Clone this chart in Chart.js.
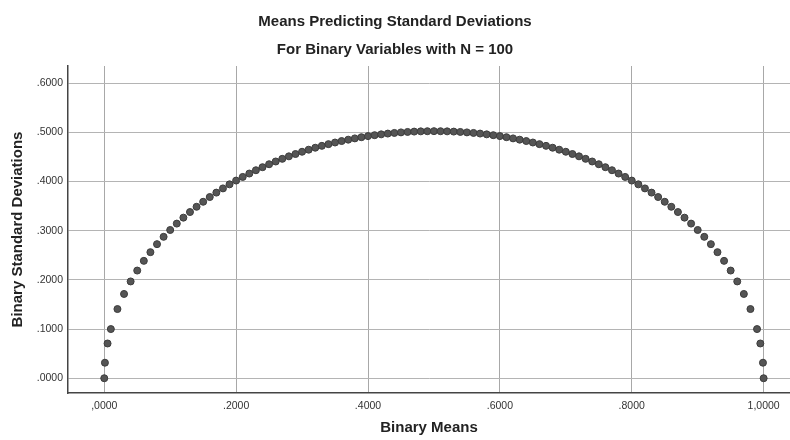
<!DOCTYPE html>
<html>
<head>
<meta charset="utf-8">
<title>Means Predicting Standard Deviations</title>
<script src="https://cdn.jsdelivr.net/npm/chart.js@4.4.1/dist/chart.umd.min.js"></script>
<style>
  body { margin: 0; background: #fff; }
  #wrap { width: 790px; height: 440px; position: relative; }
</style>
</head>
<body>
<div id="wrap"><canvas id="chart"></canvas></div>
<script>
// binary means (x) and their standard deviations (y), N = 100
var meanValues = [
  0, 0.001, 0.005,
  0.01, 0.02, 0.03, 0.04, 0.05, 0.06, 0.07, 0.08, 0.09, 0.10,
  0.11, 0.12, 0.13, 0.14, 0.15, 0.16, 0.17, 0.18, 0.19, 0.20,
  0.21, 0.22, 0.23, 0.24, 0.25, 0.26, 0.27, 0.28, 0.29, 0.30,
  0.31, 0.32, 0.33, 0.34, 0.35, 0.36, 0.37, 0.38, 0.39, 0.40,
  0.41, 0.42, 0.43, 0.44, 0.45, 0.46, 0.47, 0.48, 0.49, 0.50,
  0.51, 0.52, 0.53, 0.54, 0.55, 0.56, 0.57, 0.58, 0.59, 0.60,
  0.61, 0.62, 0.63, 0.64, 0.65, 0.66, 0.67, 0.68, 0.69, 0.70,
  0.71, 0.72, 0.73, 0.74, 0.75, 0.76, 0.77, 0.78, 0.79, 0.80,
  0.81, 0.82, 0.83, 0.84, 0.85, 0.86, 0.87, 0.88, 0.89, 0.90,
  0.91, 0.92, 0.93, 0.94, 0.95, 0.96, 0.97, 0.98, 0.99,
  0.995, 0.999, 1
];
var sdValues = [
  0, 0.0316, 0.0707,
  0.1000, 0.1407, 0.1714, 0.1969, 0.2190, 0.2387, 0.2564, 0.2727, 0.2876, 0.3015,
  0.3145, 0.3266, 0.3380, 0.3487, 0.3589, 0.3685, 0.3775, 0.3861, 0.3943, 0.4020,
  0.4094, 0.4163, 0.4230, 0.4292, 0.4352, 0.4408, 0.4462, 0.4513, 0.4560, 0.4606,
  0.4648, 0.4688, 0.4726, 0.4761, 0.4794, 0.4824, 0.4852, 0.4878, 0.4902, 0.4924,
  0.4943, 0.4960, 0.4976, 0.4989, 0.5000, 0.5009, 0.5016, 0.5021, 0.5024, 0.5025,
  0.5024, 0.5021, 0.5016, 0.5009, 0.5000, 0.4989, 0.4976, 0.4960, 0.4943, 0.4924,
  0.4902, 0.4878, 0.4852, 0.4824, 0.4794, 0.4761, 0.4726, 0.4688, 0.4648, 0.4606,
  0.4560, 0.4513, 0.4462, 0.4408, 0.4352, 0.4292, 0.4230, 0.4163, 0.4094, 0.4020,
  0.3943, 0.3861, 0.3775, 0.3685, 0.3589, 0.3487, 0.3380, 0.3266, 0.3145, 0.3015,
  0.2876, 0.2727, 0.2564, 0.2387, 0.2190, 0.1969, 0.1714, 0.1407, 0.1000,
  0.0707, 0.0316, 0
];

var xTickValues = [0, 0.2, 0.4, 0.6, 0.8, 1.0];
var xTickLabels = [',0000', '.2000', '.4000', '.6000', '.8000', '1,0000'];
var yTickValues = [0, 0.1, 0.2, 0.3, 0.4, 0.5, 0.6];
var yTickLabels = ['.0000', '.1000', '.2000', '.3000', '.4000', '.5000', '.6000'];

var points = [];
for (var i = 0; i < meanValues.length; i++) {
  points.push({ x: meanValues[i], y: sdValues[i] });
}

function labelFor(values, labels, v) {
  for (var i = 0; i < values.length; i++) {
    if (Math.abs(values[i] - v) < 1e-9) return labels[i];
  }
  return '';
}

Chart.defaults.font.family = '"Liberation Sans", Arial, sans-serif';
Chart.defaults.color = '#222';

var ctx = document.getElementById('chart').getContext('2d');
var myChart = new Chart(ctx, {
  type: 'scatter',
  data: {
    datasets: [{
      label: 'Binary Standard Deviations',
      data: points,
      pointRadius: 3.5,
      pointHoverRadius: 3.5,
      pointBackgroundColor: '#555555',
      pointBorderColor: '#3c3c3c',
      pointBorderWidth: 1
    }]
  },
  options: {
    responsive: true,
    maintainAspectRatio: false,
    animation: false,
    layout: { autoPadding: false, padding: 0 },
    plugins: {
      legend: { display: false },
      tooltip: { enabled: false },
      title: {
        display: true,
        text: 'Means Predicting Standard Deviations',
        color: '#222',
        font: { size: 15, weight: 'bold', lineHeight: 1.2 },
        padding: { top: 13, bottom: 10 }
      },
      subtitle: {
        display: true,
        text: 'For Binary Variables with N = 100',
        color: '#222',
        font: { size: 15, weight: 'bold', lineHeight: 1.2 },
        padding: { top: 0, bottom: 7 }
      }
    },
    scales: {
      x: {
        type: 'linear',
        min: -0.055,
        max: 1.04,
        afterBuildTicks: function (scale) {
          scale.ticks = xTickValues.map(function (v) { return { value: v }; });
        },
        afterFit: function (scale) { scale.height = 47; },
        grid: { color: '#a8a8a8', lineWidth: 1, drawTicks: false },
        border: { display: true, color: '#444', width: 1.5 },
        ticks: {
          padding: 7,
          color: '#333',
          font: { size: 10.5 },
          maxRotation: 0,
          callback: function (v) { return labelFor(xTickValues, xTickLabels, v); }
        },
        title: {
          display: true,
          text: 'Binary Means',
          color: '#222',
          font: { size: 15, weight: 'bold', lineHeight: 1.2 },
          padding: { top: 0, bottom: 3 }
        }
      },
      y: {
        type: 'linear',
        min: -0.03,
        max: 0.635,
        afterBuildTicks: function (scale) {
          scale.ticks = yTickValues.map(function (v) { return { value: v }; });
        },
        afterFit: function (scale) { scale.width = 68; },
        grid: { color: '#b4b4b4', lineWidth: 1, drawTicks: false },
        border: { display: true, color: '#444', width: 1.5 },
        ticks: {
          padding: 5,
          color: '#333',
          font: { size: 10.5 },
          callback: function (v) { return labelFor(yTickValues, yTickLabels, v); }
        },
        title: {
          display: true,
          text: 'Binary Standard Deviations',
          color: '#222',
          font: { size: 15, weight: 'bold', lineHeight: 1.2 },
          padding: { top: 9, bottom: 0 }
        }
      }
    }
  }
});
</script>
</body>
</html>
